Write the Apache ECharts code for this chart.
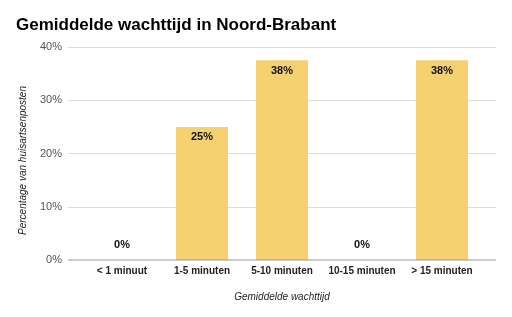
<!DOCTYPE html>
<html><head><meta charset="utf-8">
<script src="https://cdn.jsdelivr.net/npm/echarts@6/dist/echarts.min.js"></script>
<style>html,body{margin:0;padding:0;background:#fff}#c{width:512px;height:317px}</style>
</head><body><div id="c"></div>
<script>
var categories = ['< 1 minuut', '1-5 minuten', '5-10 minuten', '10-15 minuten', '> 15 minuten'];
var values = [0, 25, 37.5, 0, 37.5];
var yTicks = [0, 10, 20, 30, 40];

var font = 'Liberation Sans, Arial';
var chart = echarts.init(document.getElementById('c'), null, {renderer: 'canvas'});
chart.setOption({
  animation: false,
  title: {
    text: 'Gemiddelde wachttijd in Noord-Brabant',
    left: 11, top: 12,
    textStyle: {fontFamily: font, fontSize: 17, fontWeight: 'bold', color: '#000'}
  },
  grid: [
    {left: 68, right: 16, top: 47, bottom: 57},
    {left: 82, right: 30, top: 47, bottom: 57}
  ],
  xAxis: [{
    gridIndex: 0, type: 'value', min: 0, max: 1, show: false
  }, {
    gridIndex: 1, type: 'category', data: categories,
    name: 'Gemiddelde wachttijd', nameLocation: 'middle', nameGap: 32,
    nameTextStyle: {fontFamily: font, fontStyle: 'italic', fontSize: 10, color: '#222'},
    axisLine: {show: false},
    axisTick: {show: false},
    axisLabel: {fontFamily: font, fontSize: 10, fontWeight: 'bold', color: '#222', margin: 6, interval: 0}
  }],
  yAxis: [{
    gridIndex: 0, type: 'value', min: yTicks[0], max: yTicks[yTicks.length - 1], interval: 10,
    name: 'Percentage van huisartsenposten', nameLocation: 'middle', nameGap: 40,
    nameTextStyle: {fontFamily: font, fontStyle: 'italic', fontSize: 10, color: '#222', padding: [0, 14, 0, 0]},
    axisLine: {show: false}, axisTick: {show: false},
    splitLine: {lineStyle: {color: '#dcdcdc'}},
    axisLabel: {fontFamily: font, fontSize: 11, color: '#555', margin: 6, formatter: '{value}%'}
  }, {
    gridIndex: 1, type: 'value', min: yTicks[0], max: yTicks[yTicks.length - 1], interval: 10, show: false,
    splitLine: {show: false}
  }],
  series: [{
    type: 'line', xAxisIndex: 0, yAxisIndex: 0, data: [[0, 0], [1, 0]],
    symbol: 'none', lineStyle: {color: '#999', width: 1}, silent: true, z: 1
  }, {
    type: 'bar', xAxisIndex: 1, yAxisIndex: 1,
    barWidth: '65%',
    itemStyle: {color: '#f6d16f'},
    z: 0,
    data: values.map(function (v) {
      return {
        value: v,
        label: {
          show: true,
          position: v === 0 ? 'top' : 'insideTop',
          distance: v === 0 ? 10 : 5,
          formatter: function (p) { return Math.round(p.value) + '%'; },
          fontFamily: font, fontSize: 11, fontWeight: 'bold', color: '#111'
        }
      };
    })
  }]
});
</script></body></html>
